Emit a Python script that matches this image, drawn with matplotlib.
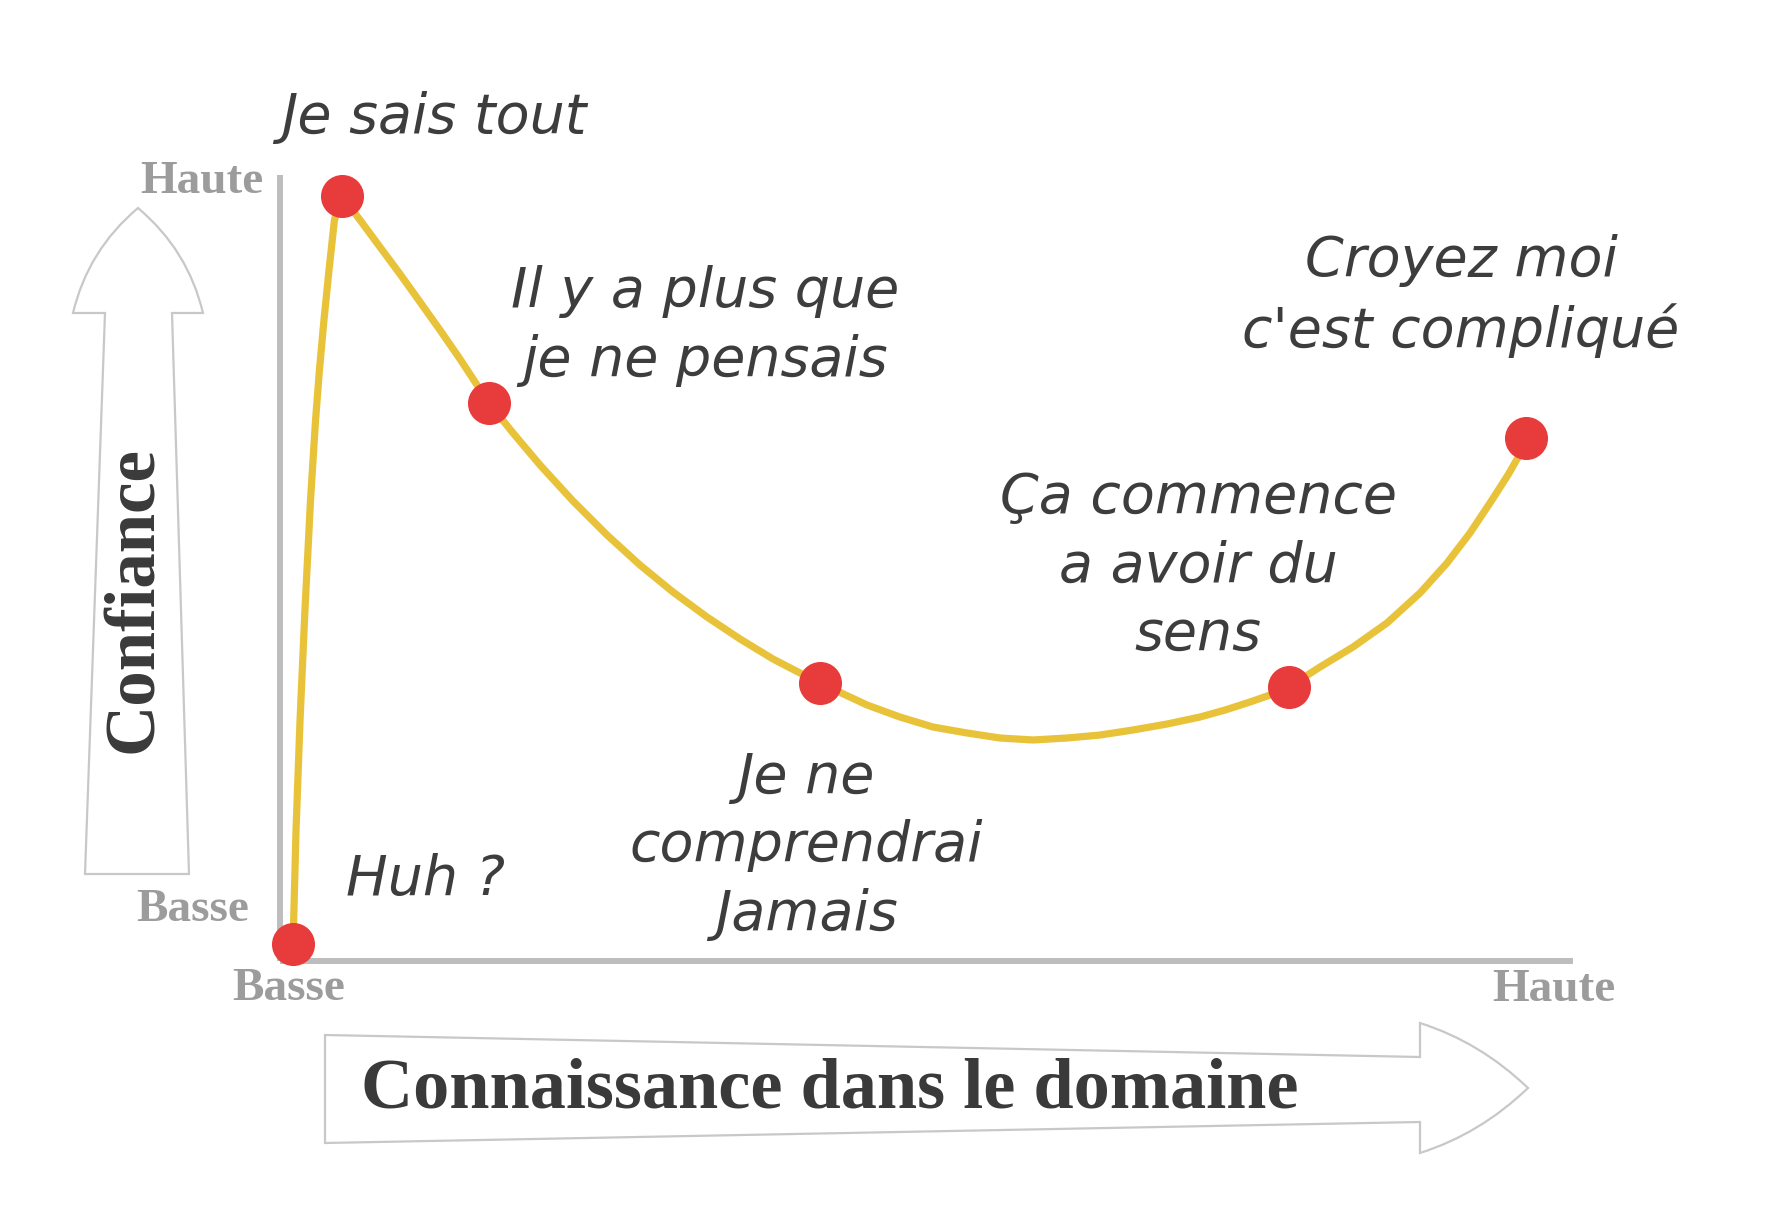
import matplotlib
matplotlib.use("Agg")
import matplotlib.pyplot as plt
from matplotlib.path import Path
from matplotlib.patches import PathPatch

# stages of the curve (knowledge, confidence) on a 0-100 scale
stage_x = [1.0, 4.8, 16.2, 41.8, 78.0, 96.4]
stage_y = [2.2, 97.3, 71.0, 35.4, 34.9, 66.5]
stage_labels = ["Huh ?", "Je sais tout", "Il y a plus que\nje ne pensais",
                "Je ne\ncomprendrai\nJamais", "Ça commence\na avoir du\nsens",
                "Croyez moi\nc'est compliqué"]

# traced path of the yellow curve
curve_x = [1.01, 1.24, 1.55, 1.93, 2.36, 2.75, 3.05, 3.40, 3.79, 4.21, 4.80,
           6.19, 7.73, 9.28, 10.83, 12.37, 13.92, 15.24, 16.16,
           18.02, 20.11, 22.66, 25.29, 27.84, 30.39, 33.02, 35.58, 38.13, 40.22, 41.76,
           45.40, 47.95, 50.50, 53.13, 55.68, 58.24, 60.87, 63.42, 65.97, 68.60,
           71.15, 73.09, 75.02, 76.57, 78.04,
           80.43, 82.99, 85.61, 88.17, 90.26, 92.03, 93.58, 94.97, 95.90, 96.44]
curve_y = [2.16, 16.67, 30.66, 44.66, 58.65, 68.83, 75.19, 81.55, 87.91, 94.27, 97.33,
           94.27, 90.84, 87.40, 83.84, 80.28, 76.59, 73.28, 70.99,
           67.18, 63.10, 58.52, 54.20, 50.38, 46.95, 43.77, 40.97, 38.42, 36.64, 35.37,
           32.57, 31.04, 29.77, 29.01, 28.37, 28.12, 28.37, 28.75, 29.39, 30.15,
           31.04, 31.93, 32.95, 33.84, 34.86,
           37.40, 39.95, 43.00, 46.82, 50.64, 54.45, 58.27, 61.83, 64.50, 66.54]

W, H = 1768, 1219
fig = plt.figure(figsize=(W / 100, H / 100), dpi=100)
fig.patch.set_facecolor("white")


def fx(px):
    return px / W


def fy(py):
    return 1 - py / H


ax = fig.add_axes([fx(280), fy(961), fx(1573) - fx(280), fy(175) - fy(961)])
ax.set_xlim(0, 100)
ax.set_ylim(0, 100)
for s in ["top", "right"]:
    ax.spines[s].set_visible(False)
for s in ["left", "bottom"]:
    ax.spines[s].set_color("#bdbdbd")
    ax.spines[s].set_linewidth(4.3)
    ax.spines[s].set_capstyle("butt")
ax.set_xticks([])
ax.set_yticks([])
ax.patch.set_alpha(0)

ax.plot(curve_x, curve_y, color="#e8c33a", lw=5.2, solid_capstyle="round",
        solid_joinstyle="round", clip_on=False, zorder=3)
ax.plot(stage_x, stage_y, "o", ms=31, color="#e83c3c", mec="none",
        clip_on=False, zorder=4)

# handwritten annotations
hand = dict(family="DejaVu Sans", style="oblique", color="#3d3d3d", fontsize=40,
            ha="center", va="center", linespacing=1.37)
label_pos = [(426, 879), (434, 117), (705, 326), (806, 846), (1198, 566), (1461, 296)]
for txt, (px, py) in zip(stage_labels, label_pos):
    fig.text(fx(px), fy(py), txt, **hand)

# gray axis extremes
gray = dict(family="Liberation Serif", weight="bold", color="#9c9c9c",
            fontsize=34, ha="center", va="center")
fig.text(fx(202), fy(182), "Haute", **gray)
fig.text(fx(193), fy(910), "Basse", **gray)
fig.text(fx(289), fy(989), "Basse", **gray)
fig.text(fx(1554), fy(990), "Haute", **gray)

# hollow arrows
edge = "#c8c8c8"


def to_fig(pts):
    return [(fx(x), fy(y)) for x, y in pts]


v_pts = [(85, 874), (105, 313), (73, 313), (88, 250), (138, 208),
         (188, 250), (203, 313), (172, 313), (189, 874), (85, 874)]
v_codes = [Path.MOVETO, Path.LINETO, Path.LINETO, Path.CURVE3, Path.CURVE3,
           Path.CURVE3, Path.CURVE3, Path.LINETO, Path.LINETO, Path.CLOSEPOLY]
fig.patches.append(PathPatch(Path(to_fig(v_pts), v_codes), fc="white", ec=edge,
                             lw=1.6, transform=fig.transFigure, figure=fig))

h_pts = [(325, 1035), (1420, 1057), (1420, 1023), (1480, 1042), (1528, 1088),
         (1480, 1134), (1420, 1153), (1420, 1122), (325, 1143), (325, 1035)]
h_codes = [Path.MOVETO, Path.LINETO, Path.LINETO, Path.CURVE3, Path.CURVE3,
           Path.CURVE3, Path.CURVE3, Path.LINETO, Path.LINETO, Path.CLOSEPOLY]
fig.patches.append(PathPatch(Path(to_fig(h_pts), h_codes), fc="white", ec=edge,
                             lw=1.6, transform=fig.transFigure, figure=fig))

big = dict(family="Liberation Serif", weight="bold", color="#3a3a3a", va="center")
fig.text(fx(135), fy(600), "Confiance", rotation=90, ha="center", fontsize=51, **big)
fig.text(fx(361), fy(1090), "Connaissance dans le domaine", ha="left", fontsize=52, **big)

fig.savefig("out.png", dpi=100)
